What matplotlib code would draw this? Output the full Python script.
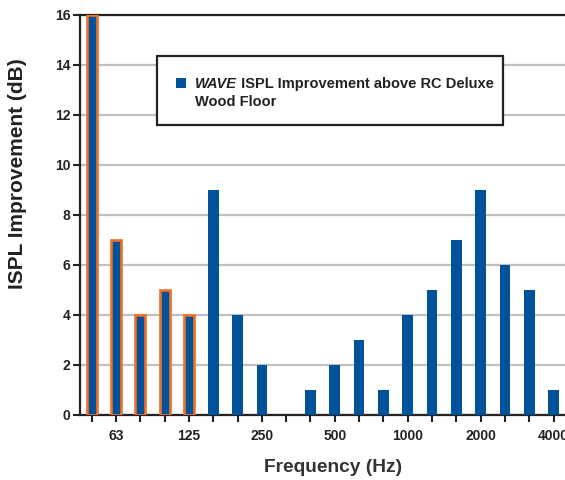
import matplotlib
matplotlib.use("Agg")
import matplotlib.pyplot as plt
from matplotlib.patches import Rectangle

freqs = ["50", "63", "80", "100", "125", "160", "200", "250", "315", "400",
         "500", "630", "800", "1000", "1250", "1600", "2000", "2500", "3150", "4000"]
values = [16, 7, 4, 5, 4, 9, 4, 2, 0, 1, 2, 3, 1, 4, 5, 7, 9, 6, 5, 1]
highlighted = [True, True, True, True, True] + [False] * 15
labeled = ["63", "125", "250", "500", "1000", "2000", "4000"]
legend_label_italic = "WAVE"
legend_label_rest = " ISPL Improvement above RC Deluxe"
legend_label_line2 = "Wood Floor"

BLUE = "#00529B"
ORANGE = "#F26F24"
GRID = "#C0C0C0"
DARK = "#222222"

plt.rcParams['font.family'] = ['Liberation Sans', 'DejaVu Sans']

fig = plt.figure(figsize=(5.65, 4.8), dpi=100)
W, H = 565, 480
ax = fig.add_axes([80 / W, 65 / H, 487 / W, 400 / H])

x = list(range(len(freqs)))
for xi, v, hl in zip(x, values, highlighted):
    if hl:
        ax.bar(xi, v, width=0.42, color=BLUE, edgecolor=ORANGE, linewidth=1.9, zorder=3)
    else:
        ax.bar(xi, v, width=0.44, color=BLUE, linewidth=0, zorder=3)

ax.set_xlim(-0.48, 19.55)
ax.set_ylim(0, 16)
ax.set_yticks(range(0, 17, 2))
ax.yaxis.grid(True, color=GRID, linewidth=1.6, zorder=0)
ax.set_axisbelow(True)

ax.set_xticks(x)
ax.set_xticklabels([f if f in labeled else "" for f in freqs])
ax.tick_params(axis='both', direction='out', length=5, width=1.5, color=DARK,
               labelsize=10, pad=2)
ax.tick_params(axis='x', pad=5)
for lab in ax.get_xticklabels() + ax.get_yticklabels():
    lab.set_fontweight('bold')
    lab.set_color(DARK)

for s in ['left', 'top', 'bottom']:
    ax.spines[s].set_linewidth(1.6)
    ax.spines[s].set_color(DARK)
ax.spines['right'].set_visible(False)

def fx(px):
    return px / W
def fy(py):
    return 1 - py / H

fig.text(fx(18), fy(174), "ISPL Improvement (dB)", rotation=90, fontsize=15,
         fontweight='bold', color=DARK, ha='center', va='center')
fig.text(fx(333), fy(468), "Frequency (Hz)", fontsize=13.8, fontweight='bold',
         color='#333333', ha='center', va='center')

# Legend box
box = Rectangle((fx(157), fy(125)), fx(503) - fx(157), fy(56) - fy(125),
                transform=fig.transFigure, facecolor='white', edgecolor=DARK,
                linewidth=1.6, zorder=10)
fig.add_artist(box)
sq = Rectangle((fx(176), fy(88)), 10 / W, 10 / H, transform=fig.transFigure,
               facecolor=BLUE, edgecolor='none', zorder=11)
fig.add_artist(sq)
t1 = fig.text(fx(195), fy(88), legend_label_italic, fontsize=10.5, fontweight='bold',
              fontstyle='italic', color=DARK, va='baseline', ha='left', zorder=12)
fig.canvas.draw()
ext = t1.get_window_extent(renderer=fig.canvas.get_renderer())
fig.text(ext.x1 / W, fy(88), legend_label_rest, fontsize=10.5, fontweight='bold',
         color=DARK, va='baseline', ha='left', zorder=12)
fig.text(fx(195), fy(105.5), legend_label_line2, fontsize=10.5, fontweight='bold',
         color=DARK, va='baseline', ha='left', zorder=12)

fig.savefig("out.png", dpi=100)
